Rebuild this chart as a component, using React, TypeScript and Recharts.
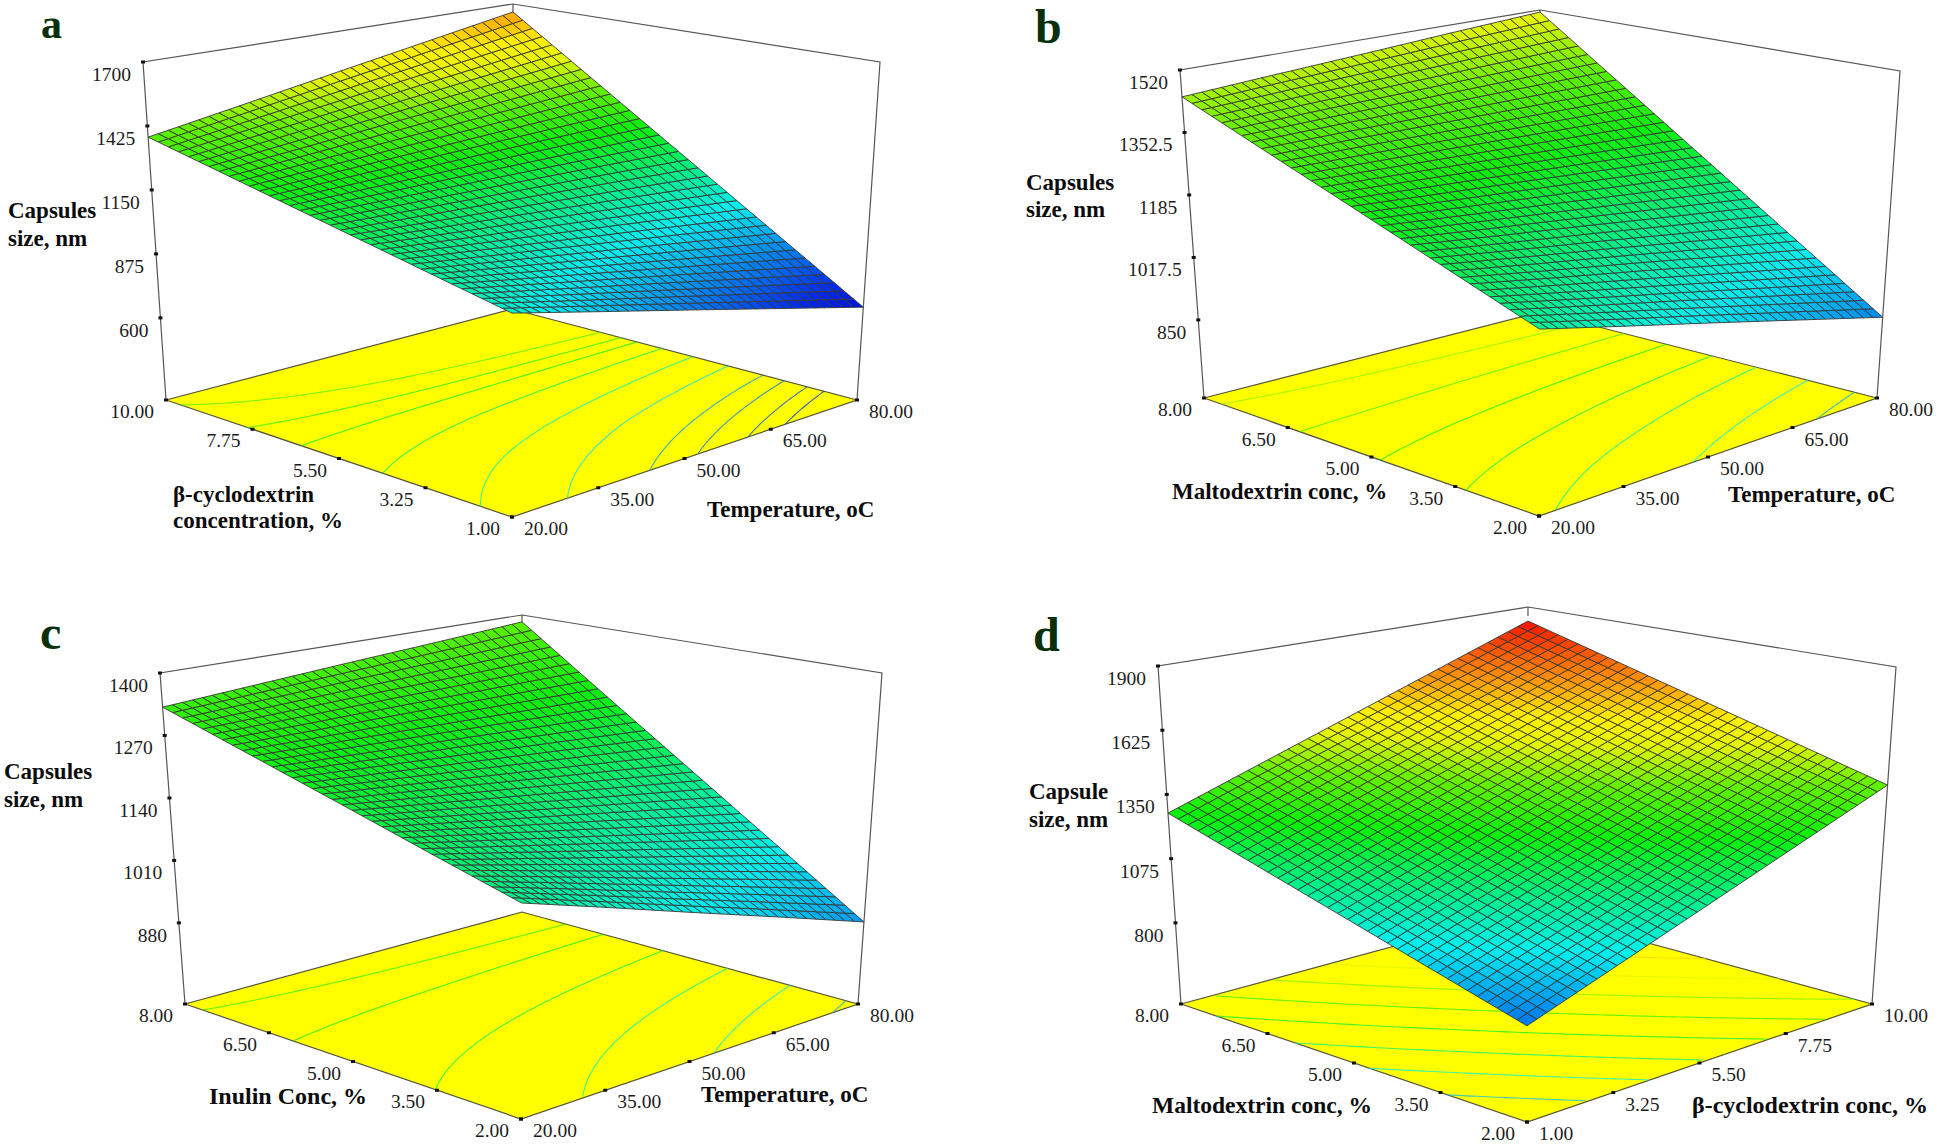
import React from "react";
import { ScatterChart, Scatter, XAxis, YAxis } from "recharts";

// axis values
const temperatureTicks = [20, 35, 50, 65, 80];
const betaTicks = [1, 3.25, 5.5, 7.75, 10];
const maltoTicks = [2, 3.5, 5, 6.5, 8];
const inulinTicks = [2, 3.5, 5, 6.5, 8];

const sizeTicksA = [600, 875, 1150, 1425, 1700];
const sizeTicksB = [850, 1017.5, 1185, 1352.5, 1520];
const sizeTicksC = [880, 1010, 1140, 1270, 1400];
const sizeTicksD = [800, 1075, 1350, 1625, 1900];

// capsule size estimated at the tick crossings, one row per left axis tick
const surfaceA = [
  [1037, 939, 842, 744, 646],
  [1122, 1066, 1011, 956, 900],
  [1207, 1193, 1181, 1168, 1154],
  [1292, 1321, 1350, 1379, 1408],
  [1377, 1448, 1520, 1591, 1662],
];
const surfaceB = [
  [1105, 1043, 982, 920, 858],
  [1191, 1148, 1107, 1064, 1022],
  [1277, 1254, 1232, 1209, 1186],
  [1362, 1360, 1356, 1353, 1350],
  [1448, 1465, 1481, 1498, 1514],
];
const surfaceC = [
  [1120, 1061, 1001, 942, 882],
  [1172, 1131, 1090, 1049, 1008],
  [1225, 1202, 1179, 1156, 1133],
  [1277, 1272, 1268, 1263, 1258],
  [1329, 1343, 1357, 1370, 1384],
];
const surfaceD = [
  [829, 970, 1111, 1252, 1393],
  [939, 1080, 1221, 1362, 1503],
  [1050, 1190, 1331, 1472, 1613],
  [1160, 1301, 1441, 1582, 1723],
  [1270, 1411, 1551, 1692, 1833],
];

// floor of plot a does not quite follow its surface, read separately
const floorTableA = [
  [1037, 939, 842, 744, 646],
  [1122, 1056, 991, 926, 860],
  [1207, 1177, 1149, 1120, 1090],
  [1292, 1311, 1331, 1350, 1370],
  [1377, 1448, 1520, 1591, 1662],
];

// levels of the contour lines on the floor
const levelsA = [728, 770, 827, 881, 974, 1068, 1164, 1244, 1297, 1363];
const levelsB = [902, 993, 1093, 1180, 1268, 1350, 1430];
const levelsC = [900, 984, 1077, 1173, 1262, 1318];
const levelsD = [930, 1030, 1125, 1225, 1320, 1415, 1510, 1605, 1700, 1790];

// colour by capsule size, same for all four plots
const colorStops: [number, number[]][] = [
  [600, [0, 0, 190]],
  [720, [0, 40, 240]],
  [880, [0, 150, 240]],
  [1000, [0, 240, 240]],
  [1120, [0, 240, 140]],
  [1270, [10, 240, 10]],
  [1400, [100, 240, 0]],
  [1500, [225, 245, 0]],
  [1570, [255, 240, 0]],
  [1670, [255, 150, 10]],
  [1830, [245, 20, 0]],
  [1900, [225, 0, 0]],
];

const colorFor = (v: number) => {
  if (v <= colorStops[0][0]) return `rgb(${colorStops[0][1].join(",")})`;
  for (let i = 1; i < colorStops.length; i++) {
    const [v1, c1] = colorStops[i];
    const [v0, c0] = colorStops[i - 1];
    if (v <= v1) {
      const f = (v - v0) / (v1 - v0);
      const c = c0.map((a, k) => Math.round(a + (c1[k] - a) * f));
      return `rgb(${c.join(",")})`;
    }
  }
  return `rgb(${colorStops[colorStops.length - 1][1].join(",")})`;
};

const CELLS = 36;

type P = [number, number];

const mix = (a: P, b: P, f: number): P => [a[0] + (b[0] - a[0]) * f, a[1] + (b[1] - a[1]) * f];

// the mesh is finer than the table, so size is taken across a table cell
const sizeAt = (table: number[][], t: number, s: number) => {
  const ct = Math.min(Math.floor(t * 4), 3);
  const cs = Math.min(Math.floor(s * 4), 3);
  const ft = t * 4 - ct;
  const fs = s * 4 - cs;
  const lo = table[cs][ct] + (table[cs][ct + 1] - table[cs][ct]) * ft;
  const hi = table[cs + 1][ct] + (table[cs + 1][ct + 1] - table[cs + 1][ct]) * ft;
  return lo + (hi - lo) * fs;
};

const noDot = () => <g />;

const CellShape = (props: any) => {
  const { cx, cy, payload } = props;
  const pts = payload.corners.map((c: P) => `${cx + c[0]},${cy + c[1]}`).join(" ");
  return <polygon points={pts} fill={payload.fill} stroke={payload.stroke} strokeWidth={payload.strokeWidth} />;
};

const TickShape = (props: any) => <rect x={props.cx - 2} y={props.cy - 1.5} width={4} height={3} fill="#111" />;

const TextShape = (props: any) => {
  const { cx, cy, payload } = props;
  return (
    <text
      x={cx}
      y={cy}
      textAnchor={payload.anchor}
      fontFamily="Liberation Serif"
      fontSize={payload.size}
      fontWeight={payload.bold ? 700 : 400}
      fill={payload.color}
    >
      {payload.label}
    </text>
  );
};

function SurfacePlot({ plot }: { plot: any }) {
  const { box, floor, top, leftTicks, rightTicks, sizeTicks, surface, levels, floorShare } = plot;
  const floorTable = plot.floorTable || surface;
  const zMin = sizeTicks[0];
  const zMax = sizeTicks[sizeTicks.length - 1];

  const onBox = (corners: any, t: number, s: number): P =>
    mix(mix(corners.front, corners.right, t), mix(corners.left, corners.back, t), s);
  const heightOf = (v: number) => floorShare + ((v - zMin) / (zMax - zMin)) * (1 - floorShare);

  // the four surface corners are placed in the box, the mesh runs straight between them
  const cornerAt = (t: number, s: number) => mix(onBox(floor, t, s), onBox(top, t, s), heightOf(sizeAt(surface, t, s)));
  const sheet = { front: cornerAt(0, 0), right: cornerAt(1, 0), left: cornerAt(0, 1), back: cornerAt(1, 1) };
  const flat = [
    [surface[0][0], surface[0][4]],
    [surface[4][0], surface[4][4]],
  ];
  const project = (t: number, s: number): P => {
    const p = onBox(sheet, t, s);
    const plain = flat[0][0] + (flat[0][1] - flat[0][0]) * t;
    const upper = flat[1][0] + (flat[1][1] - flat[1][0]) * t;
    const bend = (sizeAt(surface, t, s) - (plain + (upper - plain) * s)) / (zMax - zMin);
    const span = onBox(top, t, s)[1] - onBox(floor, t, s)[1];
    return [p[0], p[1] + bend * (1 - floorShare) * span];
  };

  const cells: any[] = [];
  for (let i = 0; i < CELLS; i++) {
    for (let j = 0; j < CELLS; j++) {
      const t0 = i / CELLS;
      const t1 = (i + 1) / CELLS;
      const s0 = j / CELLS;
      const s1 = (j + 1) / CELLS;
      const quad = [
        [t0, s0],
        [t1, s0],
        [t1, s1],
        [t0, s1],
      ].map(([t, s]) => project(t, s));
      cells.push({
        x: quad[0][0],
        y: quad[0][1],
        corners: quad.map((q) => [q[0] - quad[0][0], q[1] - quad[0][1]]),
        fill: colorFor(sizeAt(surface, (t0 + t1) / 2, (s0 + s1) / 2)),
        stroke: "#383838",
        strokeWidth: 0.9,
      });
    }
  }

  const floorOrigin = floor.left;
  const floorPoly = [
    {
      x: floorOrigin[0],
      y: floorOrigin[1],
      corners: [floor.left, floor.front, floor.right, floor.back].map((c: P) => [c[0] - floorOrigin[0], c[1] - floorOrigin[1]]),
      fill: "#ffff00",
      stroke: "#55553a",
      strokeWidth: 1.2,
    },
  ];

  const contours = levels.map((level: number) => {
    const pts: any[] = [];
    for (let k = 0; k <= 160; k++) {
      const t = k / 160;
      let lo = 0;
      let hi = 1;
      if ((sizeAt(floorTable, t, lo) - level) * (sizeAt(floorTable, t, hi) - level) > 0) continue;
      for (let n = 0; n < 24; n++) {
        const mid = (lo + hi) / 2;
        if (sizeAt(floorTable, t, mid) < level) lo = mid;
        else hi = mid;
      }
      const p = onBox(floor, t, lo);
      pts.push({ x: p[0], y: p[1] });
    }
    return { level, pts };
  });

  const wire = (corners: P[]) => corners.map((p) => ({ x: p[0], y: p[1] }));
  const frame = [
    wire([floor.left, top.left, top.back, top.right, floor.right]),
    wire([top.back, mix(floor.back, top.back, 0.97)]),
  ];

  const sizeTickPts = sizeTicks.map((v: number) => {
    const p = mix(floor.left, top.left, heightOf(v));
    return { x: p[0], y: p[1], value: v };
  });
  const leftTickPts = leftTicks.map((v: number, i: number) => {
    const p = mix(floor.front, floor.left, i / (leftTicks.length - 1));
    return { x: p[0], y: p[1], value: v };
  });
  const rightTickPts = rightTicks.map((v: number, i: number) => {
    const p = mix(floor.front, floor.right, i / (rightTicks.length - 1));
    return { x: p[0], y: p[1], value: v };
  });

  const tickFont = { size: 19.5, color: "#1c1c1c" };
  const tickTexts = [
    ...sizeTickPts.map((p: any) => ({ x: p.x - 12, y: p.y + 19, label: String(p.value), anchor: "end", ...tickFont })),
    ...leftTickPts.map((p: any) => ({ x: p.x - 12, y: p.y + 18, label: p.value.toFixed(2), anchor: "end", ...tickFont })),
    ...rightTickPts.map((p: any) => ({ x: p.x + 12, y: p.y + 18, label: p.value.toFixed(2), anchor: "start", ...tickFont })),
  ];
  const titleTexts = plot.titles.map((t: any) => ({ ...t, anchor: "start", bold: true, size: t.size || 23, color: "#0c0c0c" }));
  const letterText = [{ size: 48, ...plot.letter, anchor: "start", bold: true, color: "#08300a" }];

  return (
    <div style={{ position: "absolute", left: box.x, top: box.y }}>
      <ScatterChart width={box.w} height={box.h} margin={{ top: 0, right: 0, bottom: 0, left: 0 }}>
        <XAxis type="number" dataKey="x" domain={[box.x, box.x + box.w]} hide allowDataOverflow />
        <YAxis type="number" dataKey="y" domain={[box.y, box.y + box.h]} reversed hide allowDataOverflow />
        <Scatter data={floorPoly} shape={CellShape} isAnimationActive={false} />
        {contours.map((c: any) => (
          <Scatter
            key={c.level}
            data={c.pts}
            line={{ stroke: colorFor(c.level), strokeWidth: 1.1, strokeOpacity: 0.75 }}
            shape={noDot}
            isAnimationActive={false}
          />
        ))}
        {frame.map((f, i) => (
          <Scatter key={i} data={f} line={{ stroke: "#555", strokeWidth: 1.2 }} shape={noDot} isAnimationActive={false} />
        ))}
        <Scatter data={cells} shape={CellShape} isAnimationActive={false} />
        <Scatter data={sizeTickPts} shape={TickShape} isAnimationActive={false} />
        <Scatter data={leftTickPts} shape={TickShape} isAnimationActive={false} />
        <Scatter data={rightTickPts} shape={TickShape} isAnimationActive={false} />
        <Scatter data={tickTexts} shape={TextShape} isAnimationActive={false} />
        <Scatter data={titleTexts} shape={TextShape} isAnimationActive={false} />
        <Scatter data={letterText} shape={TextShape} isAnimationActive={false} />
      </ScatterChart>
    </div>
  );
}

const plotA = {
  box: { x: 0, y: 0, w: 968, h: 572 },
  floor: { left: [166, 400], front: [512, 517], right: [857, 400], back: [512, 309] },
  top: { left: [143, 62], front: [512, 142], right: [880, 62], back: [513, 4] },
  floorShare: 0.243,
  leftTicks: betaTicks,
  rightTicks: temperatureTicks,
  sizeTicks: sizeTicksA,
  surface: surfaceA,
  floorTable: floorTableA,
  levels: levelsA,
  letter: { x: 41, y: 38, label: "a", size: 42 },
  titles: [
    { x: 8, y: 218, label: "Capsules" },
    { x: 8, y: 246, label: "size, nm" },
    { x: 173, y: 502, label: "β-cyclodextrin" },
    { x: 173, y: 528, label: "concentration, %" },
    { x: 707, y: 517, label: "Temperature, oC" },
  ],
};

const plotB = {
  box: { x: 968, y: 0, w: 968, h: 572 },
  floor: { left: [1204, 398], front: [1539, 516], right: [1877, 398], back: [1540, 312] },
  top: { left: [1180, 70], front: [1540, 162], right: [1900, 71], back: [1540, 10] },
  floorShare: 0.238,
  leftTicks: maltoTicks,
  rightTicks: temperatureTicks,
  sizeTicks: sizeTicksB,
  surface: surfaceB,
  levels: levelsB,
  letter: { x: 1035, y: 43, label: "b" },
  titles: [
    { x: 1026, y: 190, label: "Capsules" },
    { x: 1026, y: 217, label: "size, nm" },
    { x: 1172, y: 499, label: "Maltodextrin conc, %" },
    { x: 1728, y: 502, label: "Temperature, oC" },
  ],
};

const plotC = {
  box: { x: 0, y: 572, w: 968, h: 572 },
  floor: { left: [185, 1004], front: [521, 1119], right: [858, 1004], back: [522, 912] },
  top: { left: [160, 673], front: [522, 755], right: [882, 673], back: [522, 615] },
  floorShare: 0.245,
  leftTicks: inulinTicks,
  rightTicks: temperatureTicks,
  sizeTicks: sizeTicksC,
  surface: surfaceC,
  levels: levelsC,
  letter: { x: 40, y: 649, label: "c" },
  titles: [
    { x: 4, y: 779, label: "Capsules" },
    { x: 4, y: 807, label: "size, nm" },
    { x: 209, y: 1104, label: "Inulin Conc, %", size: 24 },
    { x: 701, y: 1102, label: "Temperature, oC" },
  ],
};

const plotD = {
  box: { x: 968, y: 572, w: 968, h: 572 },
  floor: { left: [1181, 1004], front: [1527, 1122], right: [1872, 1004], back: [1527, 910] },
  top: { left: [1158, 666], front: [1527, 752], right: [1896, 667], back: [1528, 607] },
  floorShare: 0.24,
  leftTicks: maltoTicks,
  rightTicks: betaTicks,
  sizeTicks: sizeTicksD,
  surface: surfaceD,
  levels: levelsD,
  letter: { x: 1033, y: 651, label: "d" },
  titles: [
    { x: 1029, y: 799, label: "Capsule" },
    { x: 1029, y: 827, label: "size, nm" },
    { x: 1152, y: 1113, label: "Maltodextrin conc, %", size: 23.5 },
    { x: 1692, y: 1113, label: "β-cyclodextrin conc, %", size: 24 },
  ],
};

export default function App() {
  return (
    <div style={{ position: "absolute", left: 0, top: 0, width: 1936, height: 1144, background: "#fff", overflow: "hidden" }}>
      <SurfacePlot plot={plotA} />
      <SurfacePlot plot={plotB} />
      <SurfacePlot plot={plotC} />
      <SurfacePlot plot={plotD} />
    </div>
  );
}
